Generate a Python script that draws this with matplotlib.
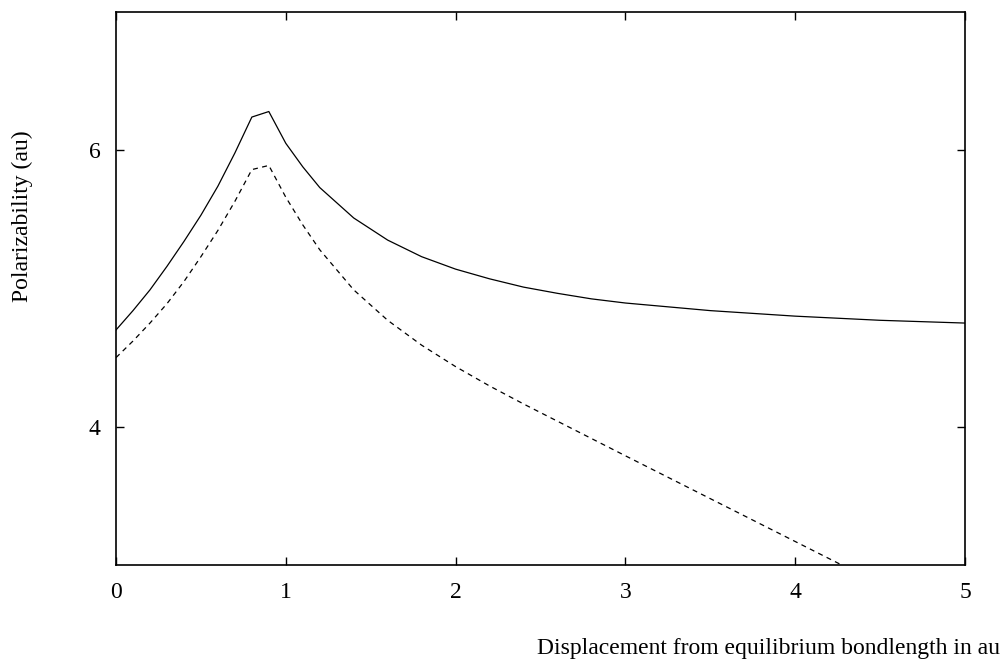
import matplotlib
matplotlib.use("Agg")
import matplotlib.pyplot as plt
import numpy as np

plt.rcParams['font.family'] = ['Liberation Serif', 'DejaVu Serif']

# displacement (au) and polarizability (au) for the two curves
displacement = [0.0, 0.1, 0.2, 0.3, 0.4, 0.5, 0.6, 0.7, 0.8, 0.9, 1.0, 1.1, 1.2,
                1.4, 1.6, 1.8, 2.0, 2.2, 2.4, 2.6, 2.8, 3.0, 3.5, 4.0, 4.5, 5.0]
alpha_solid = [4.70, 4.84, 4.99, 5.16, 5.34, 5.53, 5.74, 5.98, 6.24, 6.28, 6.05, 5.88, 5.73,
               5.51, 5.35, 5.23, 5.14, 5.07, 5.01, 4.965, 4.925, 4.895, 4.84, 4.80, 4.77, 4.75]
alpha_dashed = [4.50, 4.62, 4.75, 4.89, 5.05, 5.23, 5.42, 5.63, 5.86, 5.89, 5.66, 5.46, 5.28,
                4.99, 4.77, 4.59, 4.435, 4.295, 4.165, 4.04, 3.915, 3.79, 3.48, 3.17, 2.86, 2.55]

x_ticks = [0, 1, 2, 3, 4, 5]
y_ticks = [4, 6]

fig = plt.figure(figsize=(10.07, 6.62), dpi=100)
ax = fig.add_axes([0.1152, 0.1465, 0.8431, 0.8354])

ax.plot(displacement, alpha_solid, color='black', lw=0.9)
ax.plot(displacement, alpha_dashed, color='black', lw=0.9, dashes=(4, 3.5))

ax.set_xlim(0, 5)
ax.set_ylim(3, 7)
ax.set_xticks(x_ticks)
ax.set_yticks(y_ticks)
ax.tick_params(direction='in', length=6, width=1, top=True, right=True,
               labelsize=17)
ax.tick_params(axis='x', pad=12)
ax.tick_params(axis='y', pad=11)
for sp in ax.spines.values():
    sp.set_linewidth(1.2)

fig.text(0.993, 0.012, 'Displacement from equilibrium bondlength in au',
         ha='right', va='baseline', fontsize=17)
fig.text(0.022, 0.674, 'Polarizability (au)', rotation=90,
         ha='center', va='center', fontsize=17)

fig.savefig('out.png', dpi=100)
